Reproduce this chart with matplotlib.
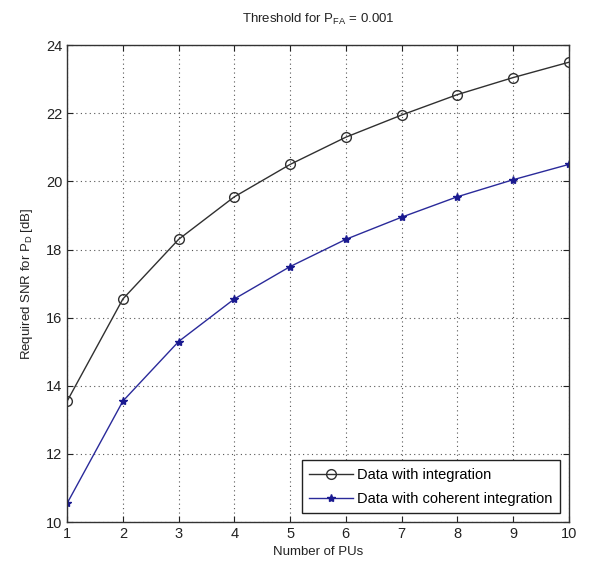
import matplotlib
matplotlib.use("Agg")
import matplotlib.pyplot as plt

plt.rcParams['font.family'] = ['Liberation Sans', 'DejaVu Sans']

num_pus = [1, 2, 3, 4, 5, 6, 7, 8, 9, 10]
snr_integration = [13.55, 16.55, 18.3, 19.55, 20.5, 21.3, 21.95, 22.55, 23.05, 23.5]
snr_coherent = [10.55, 13.55, 15.3, 16.55, 17.5, 18.3, 18.95, 19.55, 20.05, 20.5]
xticks = [1, 2, 3, 4, 5, 6, 7, 8, 9, 10]
yticks = [10, 12, 14, 16, 18, 20, 22, 24]

fig = plt.figure(figsize=(6.05, 5.73), dpi=100)
ax = fig.add_axes([0.111, 0.089, 0.829, 0.832])

ax.plot(num_pus, snr_integration, color='#303030', linewidth=1.0, marker='o',
        markersize=7, markerfacecolor='none', markeredgecolor='#303030',
        markeredgewidth=1.0, label='Data with integration')
ax.plot(num_pus, snr_coherent, color='#2a2a9a', linewidth=1.0, marker='*',
        markersize=6, markerfacecolor='#1a1a90', markeredgecolor='#1a1a90',
        label='Data with coherent integration')

ax.set_xlim(1, 10)
ax.set_ylim(10, 24)
ax.set_xticks(xticks)
ax.set_yticks(yticks)
ax.grid(True, linestyle=(0, (1, 3)), color='#555555', linewidth=0.8)
ax.tick_params(direction='in', top=True, right=True, labelsize=10.5, length=4,
               colors='#222222')
for s in ax.spines.values():
    s.set_color('#333333')
    s.set_linewidth(1.0)

ax.set_title(r'Threshold for P$_{\mathregular{FA}}$ = 0.001', fontsize=9.5, pad=16,
             color='#222222')
ax.set_xlabel('Number of PUs', fontsize=9.5, color='#222222', labelpad=4)
ax.set_ylabel(r'Required SNR for P$_{\mathregular{D}}$ [dB]', fontsize=9.5,
              color='#222222', labelpad=8)

leg = ax.legend(loc='lower right', fontsize=10.5, fancybox=False, framealpha=1,
                edgecolor='#222222', borderaxespad=0.6, handlelength=3.0,
                handletextpad=0.3, borderpad=0.5, labelspacing=0.7)
leg.get_frame().set_linewidth(1.0)

fig.savefig('out.png', dpi=100)
